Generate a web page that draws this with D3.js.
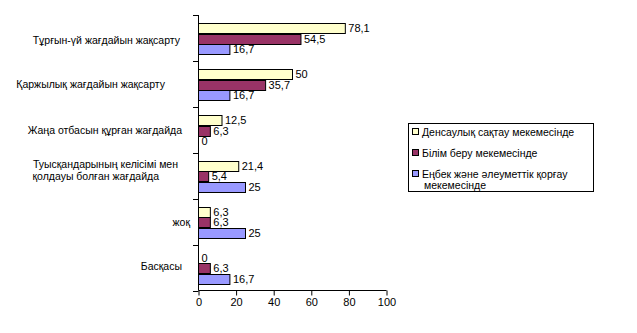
<!DOCTYPE html>
<html><head><meta charset="utf-8">
<script src="https://cdn.jsdelivr.net/npm/d3@7"></script>
<style>
body{margin:0;background:#fff;}
svg{display:block;font-family:"Liberation Sans",Arial,sans-serif;}
text{fill:#000;}
</style></head>
<body><svg id="c" width="637" height="333"></svg>
<script>
const categories = [
  "Тұрғын-үй жағдайын жақсарту",
  "Қаржылық жағдайын жақсарту",
  "Жаңа отбасын құрған жағдайда",
  "Туысқандарының келісімі мен\nқолдауы болған жағдайда",
  "жоқ",
  "Басқасы"
];
const seriesNames = [
  "Денсаулық сақтау мекемесінде",
  "Білім беру мекемесінде",
  "Еңбек және әлеуметтік қорғау\nмекемесінде"
];
const health = [78.1, 50, 12.5, 21.4, 6.3, 0];
const education = [54.5, 35.7, 6.3, 5.4, 6.3, 6.3];
const social = [16.7, 16.7, 0, 25, 25, 16.7];
const xTicks = [0, 20, 40, 60, 80, 100];
const colors = ["#FFFFCC", "#993366", "#9999FF"];

const series = [health, education, social];
const svg = d3.select("#c");
const fs = 11;

const x = d3.scaleLinear().domain([0, 100]).range([198.5, 386.5]);
const y = d3.scaleBand().domain(categories).range([15, 290.5]);
const bw = y.bandwidth();
const y1 = d3.scaleBand().domain(d3.range(series.length)).range([bw * 0.18, bw * 0.86]);

// bars
series.forEach((vals, si) => {
  const g = svg.append("g");
  g.selectAll("rect").data(vals).join("rect")
    .attr("x", x(0))
    .attr("y", (d, i) => Math.round(y(categories[i]) + y1(si)) + 0.5)
    .attr("width", d => x(d) - x(0))
    .attr("height", Math.round(y1.bandwidth()))
    .attr("fill", colors[si])
    .attr("stroke", d => d > 0 ? "#000" : "none")
    .attr("stroke-width", 1);
  g.selectAll("text").data(vals).join("text")
    .attr("x", d => x(d) + 3)
    .attr("y", (d, i) => Math.round(y(categories[i]) + y1(si)) + y1.bandwidth() / 2 + 3.5)
    .attr("font-size", fs)
    .text(d => String(d).replace(".", ","));
});

// y axis
const yAxis = d3.axisLeft(y).tickSize(0).tickFormat("");
svg.append("g").attr("transform", "translate(198.5,0)").call(yAxis)
  .call(g => g.selectAll(".domain").attr("d", "M0,15V290.5").attr("stroke", "#000"));
const bounds = categories.map(c => y(c)).concat([y.range()[1]]);
svg.append("g").selectAll("line").data(bounds).join("line")
  .attr("x1", 193).attr("x2", 198.5)
  .attr("y1", d => Math.round(d) + 0.5).attr("y2", d => Math.round(d) + 0.5)
  .attr("stroke", "#000");

// category labels
const labelRight = [180, 165, 182, 178, 190, 182];
const labelDy = [2, 0, 0, -6, 0, -2];
categories.forEach((c, i) => {
  const lines = c.split("\n");
  const cy = y(c) + bw / 2 + labelDy[i];
  const t = svg.append("text").attr("font-size", 10.5).attr("text-anchor", "end");
  lines.forEach((ln, k) => {
    t.append("tspan").attr("x", k === 0 ? labelRight[i] : labelRight[i] - 19)
      .attr("y", cy + 4 + (k - (lines.length - 1) / 2) * 12)
      .text(ln);
  });
});

// x axis
const xAxis = d3.axisBottom(x).tickValues(xTicks).tickSize(5).tickPadding(3).tickFormat(d3.format("d"));
svg.append("g").attr("transform", "translate(0,290.5)").call(xAxis)
  .call(g => g.select(".domain").attr("d", "M198.5,0H386.5").attr("stroke", "#000"))
  .call(g => g.selectAll(".tick line").attr("stroke", "#000"))
  .call(g => g.selectAll(".tick text").attr("font-size", fs).attr("font-family", "Liberation Sans, Arial, sans-serif").attr("fill", "#000"));

// legend
const lg = svg.append("g");
lg.append("rect").attr("x", 408.5).attr("y", 123.5).attr("width", 185).attr("height", 68)
  .attr("fill", "#fff").attr("stroke", "#000");
const rowY = [132, 153, 174];
seriesNames.forEach((n, i) => {
  lg.append("rect").attr("x", 412.5).attr("y", rowY[i] - 3.5).attr("width", 6).attr("height", 6)
    .attr("fill", colors[i]).attr("stroke", "#000");
  const t = lg.append("text").attr("font-size", fs - 0.5);
  n.split("\n").forEach((ln, k) => {
    t.append("tspan").attr("x", k === 0 ? 422 : 424).attr("y", rowY[i] + 4 + k * 11).text(ln);
  });
});
</script></body></html>
